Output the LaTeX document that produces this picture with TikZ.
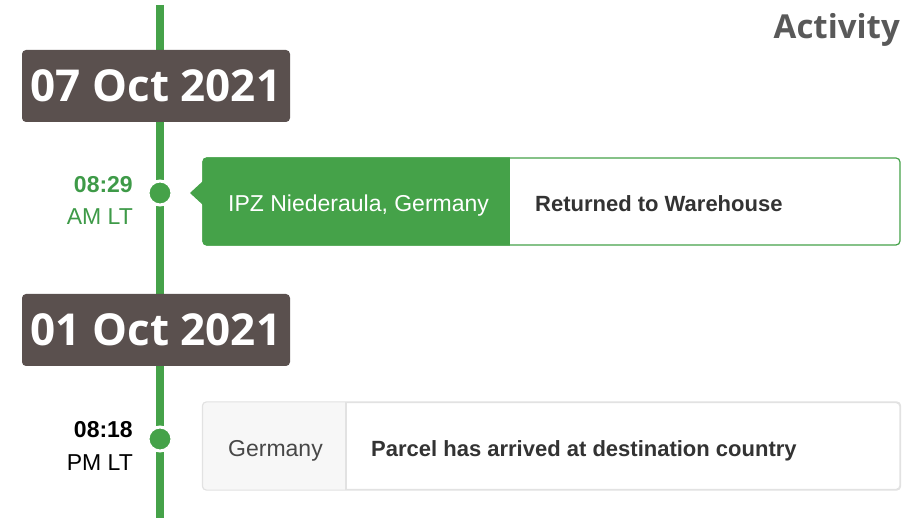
\documentclass[tikz,border=0pt]{standalone}
\usepackage{fontspec}
\setmainfont{Liberation Sans}
\newfontfamily\datefont{Open Sans}
\usetikzlibrary{positioning}
\definecolor{tlgreen}{HTML}{45A249}
\definecolor{tltime}{HTML}{3E9A48}
\definecolor{tldark}{HTML}{5A504E}
\definecolor{tltext}{HTML}{333333}
\definecolor{tlline}{HTML}{E2E2E2}
\definecolor{tlpale}{HTML}{F7F7F7}
\newcommand\cardw{697}
\newcommand\cardh{87}

\begin{document}
\begin{tikzpicture}[x=1pt,y=-1pt,
    datebox/.style={fill=tldark,rounded corners=4pt,minimum width=268pt,minimum height=72pt,
      inner sep=0pt,text=white,font=\datefont\bfseries\fontsize{44}{46}\selectfont},
    dot/.style={circle,fill=tlgreen,draw=white,line width=3pt,minimum size=24pt,inner sep=0pt},
    timebold/.style={anchor=base east,inner sep=0pt,font=\bfseries\fontsize{23}{25}\selectfont},
    timeplain/.style={anchor=base east,inner sep=0pt,font=\fontsize{23}{25}\selectfont},
    card/.style={rounded corners=4pt,minimum width=\cardw pt,minimum height=\cardh pt,inner sep=0pt,line width=1.2pt},
    place/.style={anchor=base west,inner sep=0pt,font=\fontsize{23}{25}\selectfont},
    status/.style={anchor=base west,inner sep=0pt,text=tltext,font=\bfseries\fontsize{22}{24}\selectfont}]
  \useasboundingbox (0,0) rectangle (921,518);

  % timeline
  \coordinate (top) at (160,5);
  \coordinate (bot) at (160,518);
  \draw[tlgreen,line width=8pt] (top) -- (bot);

  \node[anchor=base east,inner sep=0pt,text=black!65,font=\datefont\bfseries\fontsize{33}{35}\selectfont] (title) at (900,39) {Activity};

  % dates
  \node[datebox] (d1) at (156,86) {07 Oct 2021};
  \node[datebox] (d2) at (156,330) {01 Oct 2021};

  % first event
  \node[card,draw=tlgreen,fill=white] (c1) at (551.5,201.5) {};
  \begin{scope}
    \clip[rounded corners=4pt] (c1.north west) rectangle (c1.south east);
    \fill[tlgreen] (c1.north west) rectangle (510,0 |- c1.south);
  \end{scope}
  \fill[tlgreen] (203,181) -- (190,193) -- (203,205) -- cycle;
  \node[place,text=white] (l1) at (228,212) {IPZ Niederaula, Germany};
  \node[status] (s1) at (535,212) {Returned to Warehouse};
  \node[dot] (p1) at (160,193) {};
  \node[timebold,text=tltime] (t1) at (133,193) {08:29};
  \node[timeplain,text=tltime] (u1) at (133,225) {AM LT};

  % second event
  \node[card,draw=tlline,fill=white] (c2) at (551.5,446) {};
  \begin{scope}
    \clip[rounded corners=4pt] (c2.north west) rectangle (c2.south east);
    \fill[tlpale] (c2.north west) rectangle (346,0 |- c2.south);
  \end{scope}
  \draw[tlline,line width=1.2pt,rounded corners=4pt] (c2.north west) rectangle (c2.south east);
  \draw[tlline,line width=1.2pt] (346,402.5) -- (346,489.5);
  \node[place,text=black!72] (l2) at (228,456) {Germany};
  \node[status] (s2) at (371,456) {Parcel has arrived at destination country};
  \node[dot] (p2) at (160,439) {};
  \node[timebold,text=black] (t2) at (133,437) {08:18};
  \node[timeplain,text=black] (u2) at (133,470) {PM LT};
\end{tikzpicture}
\end{document}
